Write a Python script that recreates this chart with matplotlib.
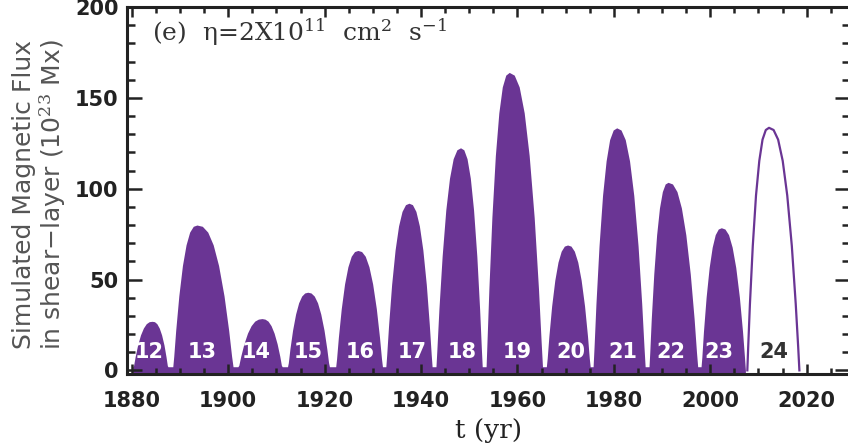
import numpy as np
import matplotlib
matplotlib.use('Agg')
import matplotlib.pyplot as plt
from matplotlib.ticker import MultipleLocator

# simulated shear-layer flux, cycles 12-23 (filled)
t_obs = [
    1880.2, 1880.36, 1880.68, 1881.2, 1881.8, 1882.4, 1883.0, 1883.6, 1884.2,
    1884.7, 1885.19, 1885.69, 1886.18, 1886.68, 1887.1, 1887.37, 1887.5,
    1888.5, 1888.7, 1889.1, 1889.75, 1890.5, 1891.25, 1892.0, 1892.75, 1893.5,
    1894.63, 1895.75, 1896.88, 1898.0, 1899.13, 1900.1, 1900.7, 1901.0,
    1902.0, 1902.2, 1902.6, 1903.25, 1904.0, 1904.75, 1905.5, 1906.25, 1907.0,
    1907.63, 1908.26, 1908.89, 1909.52, 1910.15, 1910.7, 1911.03, 1911.2,
    1912.3, 1912.47, 1912.8, 1913.35, 1913.98, 1914.61, 1915.24, 1915.87, 1916.5,
    1917.18, 1917.85, 1918.53, 1919.2, 1919.88, 1920.46, 1920.82, 1921.0,
    1922.3, 1922.48, 1922.85, 1923.45, 1924.14, 1924.83, 1925.52, 1926.21, 1926.9,
    1927.67, 1928.43, 1929.2, 1929.96, 1930.73, 1931.39, 1931.8, 1932.0,
    1932.7, 1932.89, 1933.28, 1933.9, 1934.62, 1935.34, 1936.06, 1936.78, 1937.5,
    1938.22, 1938.94, 1939.66, 1940.38, 1941.1, 1941.72, 1942.11, 1942.3,
    1943.1, 1943.3, 1943.71, 1944.38, 1945.14, 1945.91, 1946.67, 1947.44, 1948.2,
    1948.88, 1949.55, 1950.23, 1950.9, 1951.58, 1952.16, 1952.52, 1952.7,
    1953.5, 1953.69, 1954.08, 1954.7, 1955.42, 1956.14, 1956.86, 1957.58, 1958.3,
    1959.34, 1960.37, 1961.41, 1962.44, 1963.48, 1964.37, 1964.92, 1965.2,
    1966.0, 1966.18, 1966.53, 1967.1, 1967.76, 1968.42, 1969.08, 1969.74, 1970.4,
    1971.11, 1971.81, 1972.52, 1973.22, 1973.93, 1974.54, 1974.91, 1975.1,
    1975.7, 1975.9, 1976.29, 1976.93, 1977.66, 1978.4, 1979.13, 1979.87, 1980.6,
    1981.49, 1982.37, 1983.26, 1984.14, 1985.03, 1985.79, 1986.26, 1986.5,
    1987.3, 1987.46, 1987.77, 1988.29, 1988.88, 1989.47, 1990.07, 1990.66, 1991.25,
    1992.17, 1993.1, 1994.02, 1994.94, 1995.86, 1996.66, 1997.15, 1997.4,
    1998.1, 1998.27, 1998.6, 1999.15, 1999.78, 2000.41, 2001.04, 2001.67, 2002.3,
    2003.05, 2003.8, 2004.55, 2005.3, 2006.05, 2006.7, 2007.1, 2007.3,
]
flux_obs = [
    2, 2.6, 7.4, 13.9, 19.5, 23.3, 25.7, 26.8, 27,
    26.8, 25.7, 23.3, 19.5, 13.9, 7.4, 2.6, 2,
    2, 7.8, 21.9, 41.0, 57.7, 69.1, 76.1, 79.3, 80,
    79.3, 76.1, 69.1, 57.7, 41.0, 21.9, 7.8, 2,
    2, 2.8, 7.8, 14.6, 20.5, 24.6, 27.1, 28.2, 28.5,
    28.2, 27.1, 24.6, 20.5, 14.6, 7.8, 2.8, 2,
    2, 4.2, 11.8, 22.1, 31.0, 37.2, 40.9, 42.6, 43,
    42.6, 40.9, 37.2, 31.0, 22.1, 11.8, 4.2, 2,
    2, 6.4, 18.1, 33.9, 47.6, 57.0, 62.8, 65.4, 66,
    65.4, 62.8, 57.0, 47.6, 33.9, 18.1, 6.4, 2,
    2, 8.9, 25.2, 47.2, 66.3, 79.5, 87.5, 91.2, 92,
    91.2, 87.5, 79.5, 66.3, 47.2, 25.2, 8.9, 2,
    2, 11.9, 33.6, 62.8, 88.3, 105.8, 116.5, 121.4, 122.5,
    121.4, 116.5, 105.8, 88.3, 62.8, 33.6, 11.9, 2,
    2, 15.9, 44.9, 84.1, 118.2, 141.7, 156.0, 162.5, 164,
    162.5, 156.0, 141.7, 118.2, 84.1, 44.9, 15.9, 2,
    2, 6.7, 18.9, 35.4, 49.7, 59.6, 65.6, 68.4, 69,
    68.4, 65.6, 59.6, 49.7, 35.4, 18.9, 6.7, 2,
    2, 12.9, 36.6, 68.5, 96.3, 115.3, 127.0, 132.3, 133.5,
    132.3, 127.0, 115.3, 96.3, 68.5, 36.6, 12.9, 2,
    2, 10.0, 28.4, 53.1, 74.6, 89.4, 98.4, 102.6, 103.5,
    102.6, 98.4, 89.4, 74.6, 53.1, 28.4, 10.0, 2,
    2, 7.6, 21.5, 40.3, 56.6, 67.8, 74.7, 77.8, 78.5,
    77.8, 74.7, 67.8, 56.6, 40.3, 21.5, 7.6, 0,
]

# cycle 24 (outline only)
t_c24 = [2007.7, 2007.88, 2008.24, 2008.83, 2009.5, 2010.18, 2010.85, 2011.53, 2012.2,
         2013.15, 2014.09, 2015.04, 2015.98, 2016.93, 2017.74, 2018.25, 2018.5]
flux_c24 = [0, 12.9, 36.6, 68.5, 96.3, 115.3, 127.0, 132.3, 133.5,
            132.3, 127.0, 115.3, 96.3, 68.5, 36.6, 12.9, 0]

cycle_nums = ['12', '13', '14', '15', '16', '17', '18', '19', '20', '21', '22', '23', '24']
cycle_x = [1883.7, 1894.5, 1905.9, 1916.5, 1927.3, 1938.1, 1948.5,
           1959.9, 1971.0, 1981.9, 1991.8, 2001.8, 2013.2]

purple = '#6a3594'
ybase = -2

plt.rcParams['mathtext.fontset'] = 'dejavuserif'

fig = plt.figure(figsize=(8.48, 4.45), dpi=100)
ax = fig.add_axes([127 / 848, 71 / 445, 723 / 848, 367 / 445])

ax.fill_between(t_obs, ybase, flux_obs, color=purple, lw=0)
ax.plot(t_c24, flux_c24, color=purple, lw=1.6)

for lab, xc in zip(cycle_nums, cycle_x):
    col = '#333333' if lab == '24' else 'white'
    ax.text(xc, 10, lab, color=col, ha='center', va='center',
            fontsize=15, fontweight='bold', family='DejaVu Sans')

ax.set_xlim(1879, 2029)
ax.set_ylim(ybase, 200)
ax.xaxis.set_major_locator(MultipleLocator(20))
ax.xaxis.set_minor_locator(MultipleLocator(5))
ax.yaxis.set_major_locator(MultipleLocator(50))
ax.yaxis.set_minor_locator(MultipleLocator(10))
ax.tick_params(which='both', direction='in', top=True, right=True, width=1.8, color='#222222')
ax.tick_params(axis='y', which='major', length=10.5, pad=6)
ax.tick_params(axis='y', which='minor', length=5.5)
ax.tick_params(axis='x', which='major', length=7.5, pad=12)
ax.tick_params(axis='x', which='minor', length=4.5)
for lbl in ax.get_xticklabels() + ax.get_yticklabels():
    lbl.set_fontfamily('DejaVu Sans')
    lbl.set_fontweight('bold')
    lbl.set_fontsize(15)
    lbl.set_color('#222222')
for sp in ax.spines.values():
    sp.set_linewidth(2.2)
    sp.set_color('#222222')

ax.text(1884.1, 186, r'(e)  η=2X10$^{11}$  cm$^{2}$  s$^{-1}$', family='DejaVu Serif',
        fontsize=18, color='#333333', va='center', ha='left')

ax.text(-0.12, 0.49, 'Simulated Magnetic Flux\nin shear\u2212layer (10$^{23}$ Mx)',
        transform=ax.transAxes, rotation=90, ha='center', va='center',
        multialignment='center', fontsize=18, color='#555555', linespacing=1.05,
        family='DejaVu Sans')
ax.text(0.5, -0.153, 't (yr)', transform=ax.transAxes, ha='center', va='center',
        fontsize=19, family='DejaVu Serif', color='#222222')

fig.savefig('out.png', dpi=100)
